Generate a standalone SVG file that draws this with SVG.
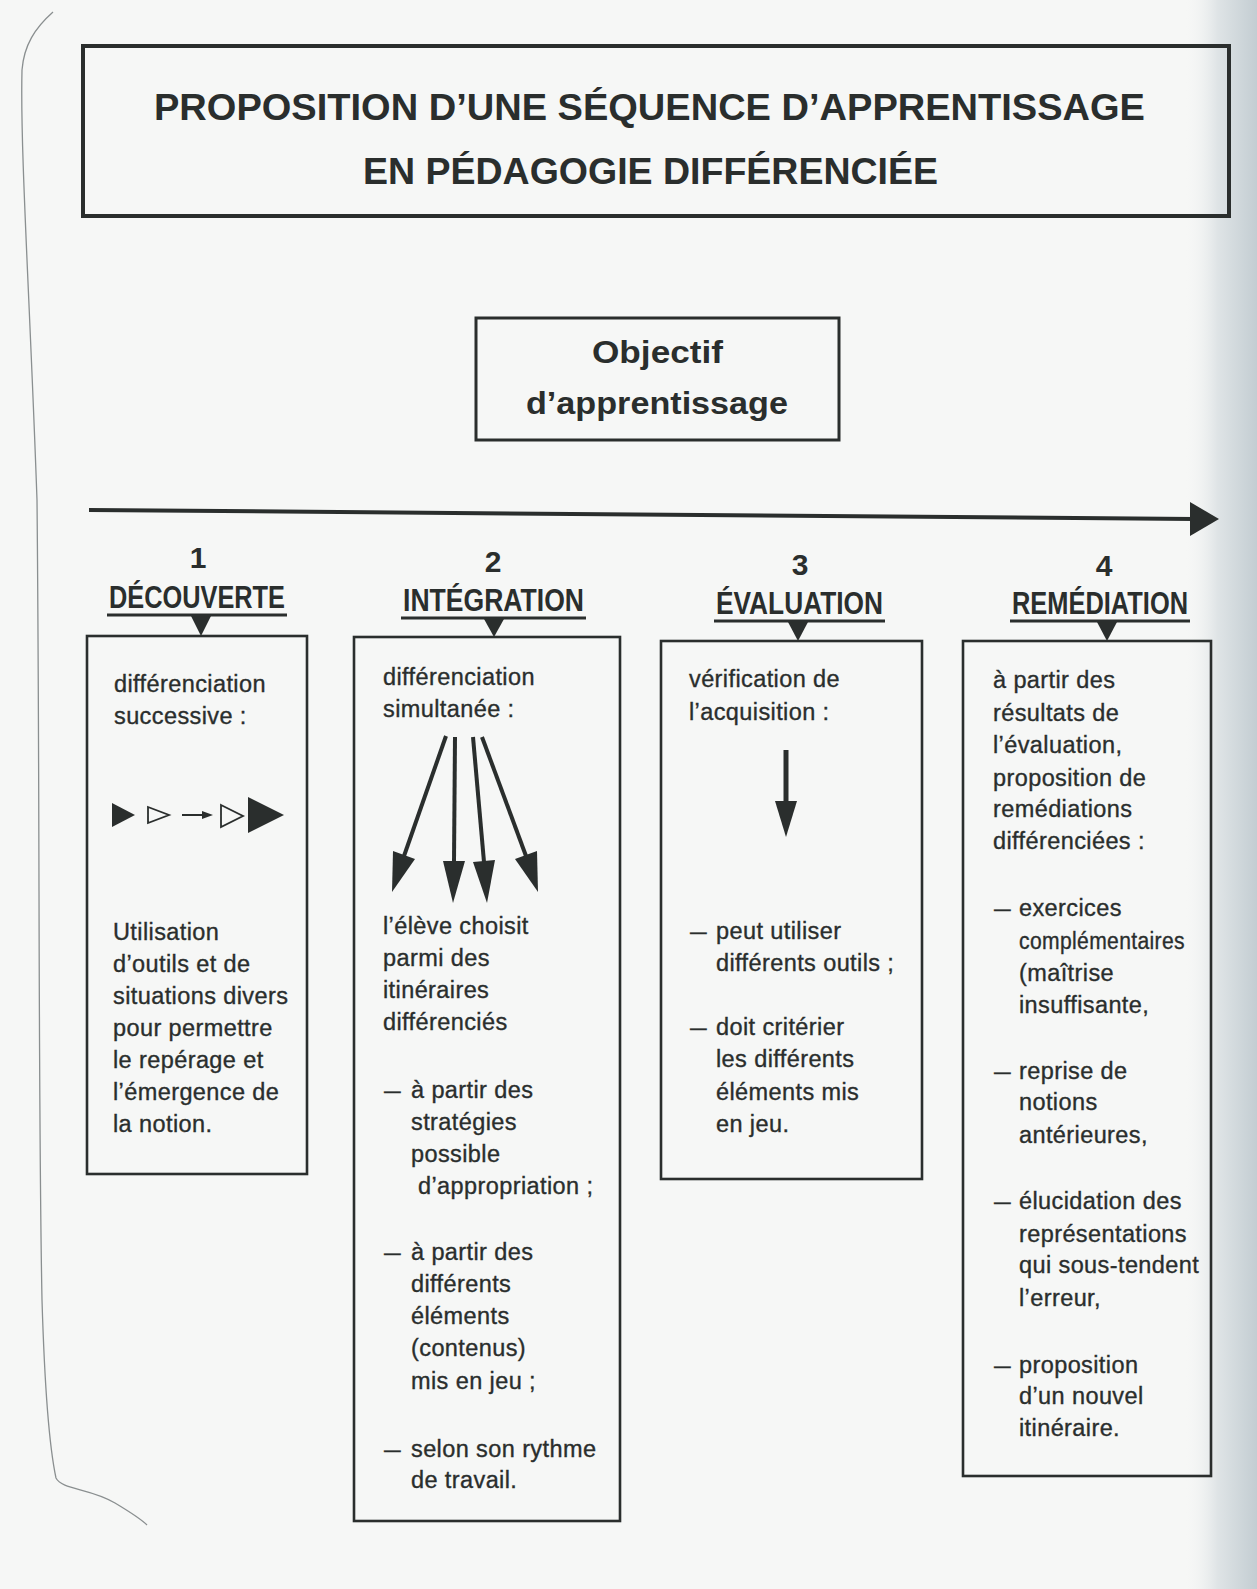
<svg xmlns="http://www.w3.org/2000/svg" width="1257" height="1589" viewBox="0 0 1257 1589">
<defs>
<linearGradient id="edge" x1="0" y1="0" x2="1" y2="0">
<stop offset="0" stop-color="#f5f6f5" stop-opacity="0"/>
<stop offset="0.45" stop-color="#dfe4e6"/>
<stop offset="1" stop-color="#c3cdd2"/>
</linearGradient>
<style>
.ink{fill:#2a2e2d}
.box{fill:none;stroke:#2a2e2d;stroke-width:2.6}
.t{font-family:"Liberation Sans",Arial,sans-serif;font-size:23.5px;fill:#2a2e2d;stroke:#2a2e2d;stroke-width:0.35px;letter-spacing:0.4px}
.h{font-family:"Liberation Sans",Arial,sans-serif;font-weight:bold;fill:#2a2e2d}
.ul{stroke:#2a2e2d;stroke-width:3.2}
.ar{stroke:#2a2e2d;stroke-width:4;fill:none}
</style>
</defs>
<rect width="1257" height="1589" fill="#f6f7f6"/>
<rect x="1185" y="0" width="72" height="1589" fill="url(#edge)"/>
<path d="M53,12 C35,28 24,45 22,70 C20,150 30,300 37,500 C40,800 38,1100 42,1300 C45,1400 50,1450 56,1478 C62,1490 90,1488 115,1503 C130,1512 140,1518 147,1525" fill="none" stroke="#8a8f90" stroke-width="1.3"/>

<g id="title">
<rect x="83" y="46" width="1146" height="170" fill="none" stroke="#2a2e2d" stroke-width="4"/>
<text class="h" x="154" y="120" font-size="37" textLength="991" lengthAdjust="spacingAndGlyphs">PROPOSITION D’UNE SÉQUENCE D’APPRENTISSAGE</text>
<text class="h" x="363" y="184" font-size="37" textLength="575" lengthAdjust="spacingAndGlyphs">EN PÉDAGOGIE DIFFÉRENCIÉE</text>
</g>

<g id="objectif">
<rect x="476" y="318" width="363" height="122" fill="none" stroke="#2a2e2d" stroke-width="3"/>
<text class="h" x="592" y="363" font-size="31" textLength="131" lengthAdjust="spacingAndGlyphs">Objectif</text>
<text class="h" x="526" y="414" font-size="31" textLength="262" lengthAdjust="spacingAndGlyphs">d’apprentissage</text>
</g>

<g id="connectors">
<line x1="89" y1="510" x2="1194" y2="519" stroke="#2a2e2d" stroke-width="4"/>
<polygon class="ink" points="1190,502 1219,519 1190,536"/>
<polygon class="ink" points="191,616 211,616 201,636"/>
<polygon class="ink" points="484,619 504,619 494,637"/>
<polygon class="ink" points="788,622 808,622 798,641"/>
<polygon class="ink" points="1097,622 1117,622 1107,641"/>
</g>

<g id="step1">
<text class="h" x="198" y="568" font-size="30" text-anchor="middle">1</text>
<text class="h" x="109" y="608" font-size="31" textLength="176" lengthAdjust="spacingAndGlyphs">DÉCOUVERTE</text>
<line class="ul" x1="107" y1="615" x2="287" y2="615"/>
<rect class="box" x="87" y="636" width="220" height="538"/>
<text class="t" x="114" y="692">différenciation</text>
<text class="t" x="114" y="724">successive :</text>
<polygon class="ink" points="112,803 135,815 112,827"/>
<polygon points="148,807 169,815 148,823" fill="none" stroke="#2a2e2d" stroke-width="1.8"/>
<line x1="182" y1="815" x2="205" y2="815" stroke="#2a2e2d" stroke-width="2"/>
<polygon class="ink" points="202,811 213,815 202,819"/>
<polygon points="221,805 243,816 221,827" fill="none" stroke="#2a2e2d" stroke-width="1.8"/>
<polygon class="ink" points="248,797 284,815 248,833"/>
<text class="t" x="113" y="940">Utilisation</text>
<text class="t" x="113" y="972">d’outils et de</text>
<text class="t" x="113" y="1004">situations divers</text>
<text class="t" x="113" y="1036">pour permettre</text>
<text class="t" x="113" y="1068">le repérage et</text>
<text class="t" x="113" y="1100">l’émergence de</text>
<text class="t" x="113" y="1132">la notion.</text>
</g>

<g id="step2">
<text class="h" x="493" y="572" font-size="30" text-anchor="middle">2</text>
<text class="h" x="403" y="611" font-size="31" textLength="181" lengthAdjust="spacingAndGlyphs">INTÉGRATION</text>
<line class="ul" x1="401" y1="618" x2="586" y2="618"/>
<rect class="box" x="354" y="637" width="266" height="884"/>
<text class="t" x="383" y="685">différenciation</text>
<text class="t" x="383" y="717">simultanée :</text>
<line class="ar" x1="446" y1="736" x2="404" y2="856"/>
<polygon class="ink" points="393,851 415,859 392,892"/>
<line class="ar" x1="455" y1="737" x2="454" y2="862"/>
<polygon class="ink" points="443,861 465,861 453,903"/>
<line class="ar" x1="473" y1="737" x2="484" y2="862"/>
<polygon class="ink" points="473,862 495,860 487,903"/>
<line class="ar" x1="482" y1="737" x2="526" y2="856"/>
<polygon class="ink" points="515,859 537,851 538,892"/>
<text class="t" x="383" y="934">l’élève choisit</text>
<text class="t" x="383" y="966">parmi des</text>
<text class="t" x="383" y="998">itinéraires</text>
<text class="t" x="383" y="1030">différenciés</text>
<text class="t" y="1098"><tspan x="384" textLength="17" lengthAdjust="spacingAndGlyphs">—</tspan><tspan x="411">à partir des</tspan></text>
<text class="t" x="411" y="1130">stratégies</text>
<text class="t" x="411" y="1162">possible</text>
<text class="t" x="418" y="1194">d’appropriation ;</text>
<text class="t" y="1260"><tspan x="384" textLength="17" lengthAdjust="spacingAndGlyphs">—</tspan><tspan x="411">à partir des</tspan></text>
<text class="t" x="411" y="1292">différents</text>
<text class="t" x="411" y="1324">éléments</text>
<text class="t" x="411" y="1356">(contenus)</text>
<text class="t" x="411" y="1389">mis en jeu ;</text>
<text class="t" y="1457"><tspan x="384" textLength="17" lengthAdjust="spacingAndGlyphs">—</tspan><tspan x="411">selon son rythme</tspan></text>
<text class="t" x="411" y="1488">de travail.</text>
</g>

<g id="step3">
<text class="h" x="800" y="575" font-size="30" text-anchor="middle">3</text>
<text class="h" x="716" y="614" font-size="31" textLength="167" lengthAdjust="spacingAndGlyphs">ÉVALUATION</text>
<line class="ul" x1="714" y1="621" x2="885" y2="621"/>
<rect class="box" x="661" y="641" width="261" height="538"/>
<text class="t" x="689" y="687">vérification de</text>
<text class="t" x="689" y="720">l’acquisition :</text>
<line x1="786" y1="750" x2="786" y2="803" stroke="#2a2e2d" stroke-width="5"/>
<polygon class="ink" points="775,801 797,801 786,837"/>
<text class="t" y="939"><tspan x="690" textLength="17" lengthAdjust="spacingAndGlyphs">—</tspan><tspan x="716">peut utiliser</tspan></text>
<text class="t" x="716" y="971">différents outils ;</text>
<text class="t" y="1035"><tspan x="690" textLength="17" lengthAdjust="spacingAndGlyphs">—</tspan><tspan x="716">doit critérier</tspan></text>
<text class="t" x="716" y="1067">les différents</text>
<text class="t" x="716" y="1100">éléments mis</text>
<text class="t" x="716" y="1132">en jeu.</text>
</g>

<g id="step4">
<text class="h" x="1104" y="576" font-size="30" text-anchor="middle">4</text>
<text class="h" x="1012" y="614" font-size="31" textLength="176" lengthAdjust="spacingAndGlyphs">REMÉDIATION</text>
<line class="ul" x1="1010" y1="621" x2="1190" y2="621"/>
<rect class="box" x="963" y="641" width="248" height="835"/>
<text class="t" x="993" y="688">à partir des</text>
<text class="t" x="993" y="721">résultats de</text>
<text class="t" x="993" y="753">l’évaluation,</text>
<text class="t" x="993" y="786">proposition de</text>
<text class="t" x="993" y="817">remédiations</text>
<text class="t" x="993" y="849">différenciées :</text>
<text class="t" y="916"><tspan x="994" textLength="17" lengthAdjust="spacingAndGlyphs">—</tspan><tspan x="1019">exercices</tspan></text>
<text class="t" x="1019" y="949" textLength="166" lengthAdjust="spacingAndGlyphs">complémentaires</text>
<text class="t" x="1019" y="981">(maîtrise</text>
<text class="t" x="1019" y="1013">insuffisante,</text>
<text class="t" y="1079"><tspan x="994" textLength="17" lengthAdjust="spacingAndGlyphs">—</tspan><tspan x="1019">reprise de</tspan></text>
<text class="t" x="1019" y="1110">notions</text>
<text class="t" x="1019" y="1143">antérieures,</text>
<text class="t" y="1209"><tspan x="994" textLength="17" lengthAdjust="spacingAndGlyphs">—</tspan><tspan x="1019">élucidation des</tspan></text>
<text class="t" x="1019" y="1242">représentations</text>
<text class="t" x="1019" y="1273">qui sous-tendent</text>
<text class="t" x="1019" y="1306">l’erreur,</text>
<text class="t" y="1373"><tspan x="994" textLength="17" lengthAdjust="spacingAndGlyphs">—</tspan><tspan x="1019">proposition</tspan></text>
<text class="t" x="1019" y="1404">d’un nouvel</text>
<text class="t" x="1019" y="1436">itinéraire.</text>
</g>
</svg>
